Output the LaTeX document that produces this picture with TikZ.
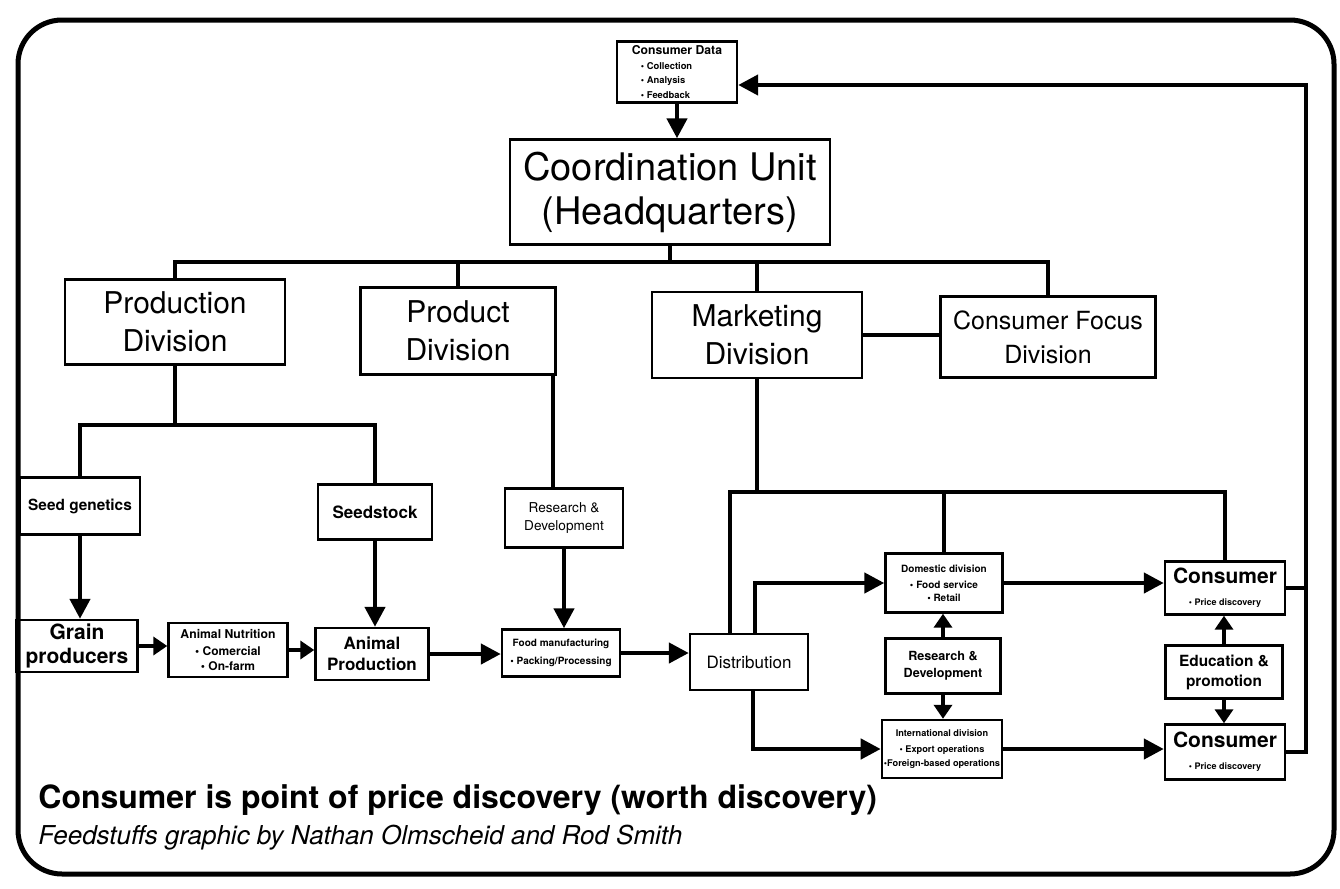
\documentclass[tikz,border=0pt]{standalone}
\usepackage{fontspec}
\setmainfont{TeX Gyre Heros}
\usetikzlibrary{arrows.meta}
\newcommand\fsz[2]{\fontsize{#1}{#2}\selectfont}
\tikzset{
  box/.style={draw, line width=1.2pt, align=center, inner sep=1pt},
  link/.style={line width=2.2pt},
  arr/.style={line width=2.2pt, -{Triangle[length=10pt,width=10pt]}},
  sarr/.style={line width=2.2pt, -{Triangle[length=7pt,width=9pt]}}
}

\begin{document}
\begin{tikzpicture}[x=0.5pt, y=-0.5pt]
			%%%%% START %%%%%
			\useasboundingbox (0,0) rectangle (1340,889);
			\draw[line width=2.5pt, rounded corners=22pt] (18,20) rectangle (1334,874);
			
			% top of the chart
			\node[box, minimum width=60pt, minimum height=30.5pt, inner sep=0.5pt, align=left, font=\fsz{6.1}{7.4}\bfseries] (cdata) at (677,72)
				{Consumer Data\\\fsz{4.7}{6.2}\hspace{4.5pt}• Collection\\\fsz{4.7}{6.2}\hspace{4.5pt}• Analysis\\\fsz{4.7}{6.2}\hspace{4.5pt}• Feedback};
			\node[box, minimum width=160pt, minimum height=52.5pt, font=\fsz{19}{22}] (hq) at (670,192) {Coordination Unit\\(Headquarters)};
			
			% divisions
			\node[box, minimum width=110pt, minimum height=42.5pt, font=\fsz{15}{19}] (prod) at (175,322) {Production\\Division};
			\node[box, minimum width=97.5pt, minimum height=43.5pt, font=\fsz{15}{19}] (prodt) at (458,331) {Product\\Division};
			\node[box, minimum width=105pt, minimum height=43pt, font=\fsz{15}{19}] (mkt) at (757,335) {Marketing\\Division};
			\node[box, minimum width=107.5pt, minimum height=40.5pt, font=\fsz{12.5}{17}] (cfocus) at (1048,337) {Consumer Focus\\Division};
			
			% production chain
			\node[box, minimum width=60pt, minimum height=28.5pt, font=\fsz{7.7}{9}\bfseries] (seedg) at (80,506) {Seed genetics};
			\node[box, minimum width=57pt, minimum height=27.5pt, font=\fsz{8.5}{10}\bfseries] (seeds) at (375,512) {Seedstock};
			\node[box, minimum width=59pt, minimum height=29.5pt, font=\fsz{6.8}{9}] (rdp) at (564,518) {Research \&\\Development};
			\node[box, minimum width=60.5pt, minimum height=26pt, font=\fsz{10.5}{12}\bfseries] (grain) at (77,646) {Grain\\producers};
			\node[box, minimum width=59.5pt, minimum height=27pt, font=\fsz{6.1}{7.5}\bfseries] (anut) at (228,650)
				{Animal Nutrition\\[1pt]\fsz{6}{6.8}• Comercial\\\fsz{6}{6.8}• On-farm};
			\node[box, minimum width=56.5pt, minimum height=26pt, font=\fsz{8.5}{10.5}\bfseries] (aprod) at (372,654) {Animal\\Production};
			\node[box, minimum width=59pt, minimum height=23.5pt, font=\fsz{5}{9}\bfseries] (food) at (561,653) {Food manufacturing\\• Packing/Processing};
			\node[box, minimum width=59pt, minimum height=28pt, font=\fsz{8.5}{10}] (dist) at (749,662) {Distribution};
			
			% marketing side
			\node[box, minimum width=58.5pt, minimum height=29.5pt, font=\fsz{5}{6.5}\bfseries] (dom) at (944,583)
				{Domestic division\\[1.5pt]• Food service\\• Retail};
			\node[box, minimum width=57.5pt, minimum height=27.5pt, font=\fsz{6.3}{8.5}\bfseries] (rdm) at (943,666) {Research \&\\Development};
			\node[box, minimum width=58.5pt, minimum height=29pt, font=\fsz{4.6}{6.6}\bfseries] (intl) at (942,749)
				{International division\\[1.5pt]• Export operations\\•Foreign-based operations};
			\node[box, minimum width=60pt, minimum height=26.5pt, font=\fsz{10.5}{11}\bfseries] (ctop) at (1225,588)
				{Consumer\\\fsz{4.5}{6}• Price discovery};
			\node[box, minimum width=58.5pt, minimum height=26.5pt, font=\fsz{7.7}{10}\bfseries] (edu) at (1224,672) {Education \&\\promotion};
			\node[box, minimum width=60pt, minimum height=27.5pt, font=\fsz{10.5}{11}\bfseries] (cbot) at (1225,752)
				{Consumer\\\fsz{4.5}{6}• Price discovery};
			
			% captions
			\node[anchor=west, inner sep=0pt, font=\fsz{16}{18}\bfseries] (claim) at (38,800) {Consumer is point of price discovery (worth discovery)};
			\node[anchor=west, inner sep=0pt, font=\fsz{13}{15}\itshape] (credit) at (38,838) {Feedstuffs graphic by Nathan Olmscheid and Rod Smith};
			
			% connectors, top
			\draw[arr] (cdata.south) -- (cdata.south |- hq.north);
			\coordinate (hqbus) at (670,262);
			\draw[link] (hq.south) -- (hqbus);
			\draw[link] (prod.north) -- (prod.north |- hqbus) -- (cfocus.north |- hqbus) -- (cfocus.north);
			\draw[link] (prodt.north) -- (prodt.north |- hqbus);
			\draw[link] (mkt.north) -- (mkt.north |- hqbus);
			\draw[link] (mkt.east) -- (mkt.east -| cfocus.west);
			
			% connectors, production
			\coordinate (pbus) at (178,425);
			\draw[link] (prod.south) -- (prod.south |- pbus);
			\draw[link] (seedg.north) -- (seedg.north |- pbus) -- (seeds.north |- pbus) -- (seeds.north);
			\draw[arr] (seedg.south) -- (seedg.south |- grain.north);
			\draw[arr] (seeds.south) -- (seeds.south |- aprod.north);
			\draw[sarr] (grain.east) -- (grain.east -| anut.west);
			\draw[sarr] (anut.east) -- (anut.east -| aprod.west);
			\draw[arr] (aprod.east) -- (aprod.east -| food.west);
			\draw[arr] (food.east) -- (food.east -| dist.west);
			
			% connectors, product
			\draw[link] ([xshift=-5.5pt]rdp.north) -- ([xshift=-5.5pt]rdp.north |- prodt.south);
			\draw[arr] (rdp.south) -- (rdp.south |- food.north);
			
			% connectors, marketing
			\coordinate (mbus) at (762,492);
			\draw[link] (mkt.south) -- (mkt.south |- mbus);
			\draw[link] ([xshift=-9.5pt]dist.north) -- ([xshift=-9.5pt]dist.north |- mbus) -- (ctop.north |- mbus) -- (ctop.north);
			\draw[link] (dom.north) -- (dom.north |- mbus);
			\draw[arr] ([xshift=3pt]dist.north) |- (dom.west);
			\draw[arr] ([xshift=2pt]dist.south) |- (intl.west);
			\draw[arr] (dom.east) -- (dom.east -| ctop.west);
			\draw[arr] (intl.east) -- (intl.east -| cbot.west);
			\draw[sarr] (rdm.north) -- (rdm.north |- dom.south);
			\draw[sarr] (rdm.south) -- (rdm.south |- intl.north);
			\draw[sarr] (edu.north) -- (edu.north |- ctop.south);
			\draw[sarr] (edu.south) -- (edu.south |- cbot.north);
			
			% feedback to consumer data
			\coordinate (fb) at (1306,85);
			\draw[link] (ctop.east) -- (ctop.east -| fb);
			\draw[arr] (cbot.east) -| (fb) -- (fb -| cdata.east);
			%%%%% END %%%%%
\end{tikzpicture}
\end{document}
